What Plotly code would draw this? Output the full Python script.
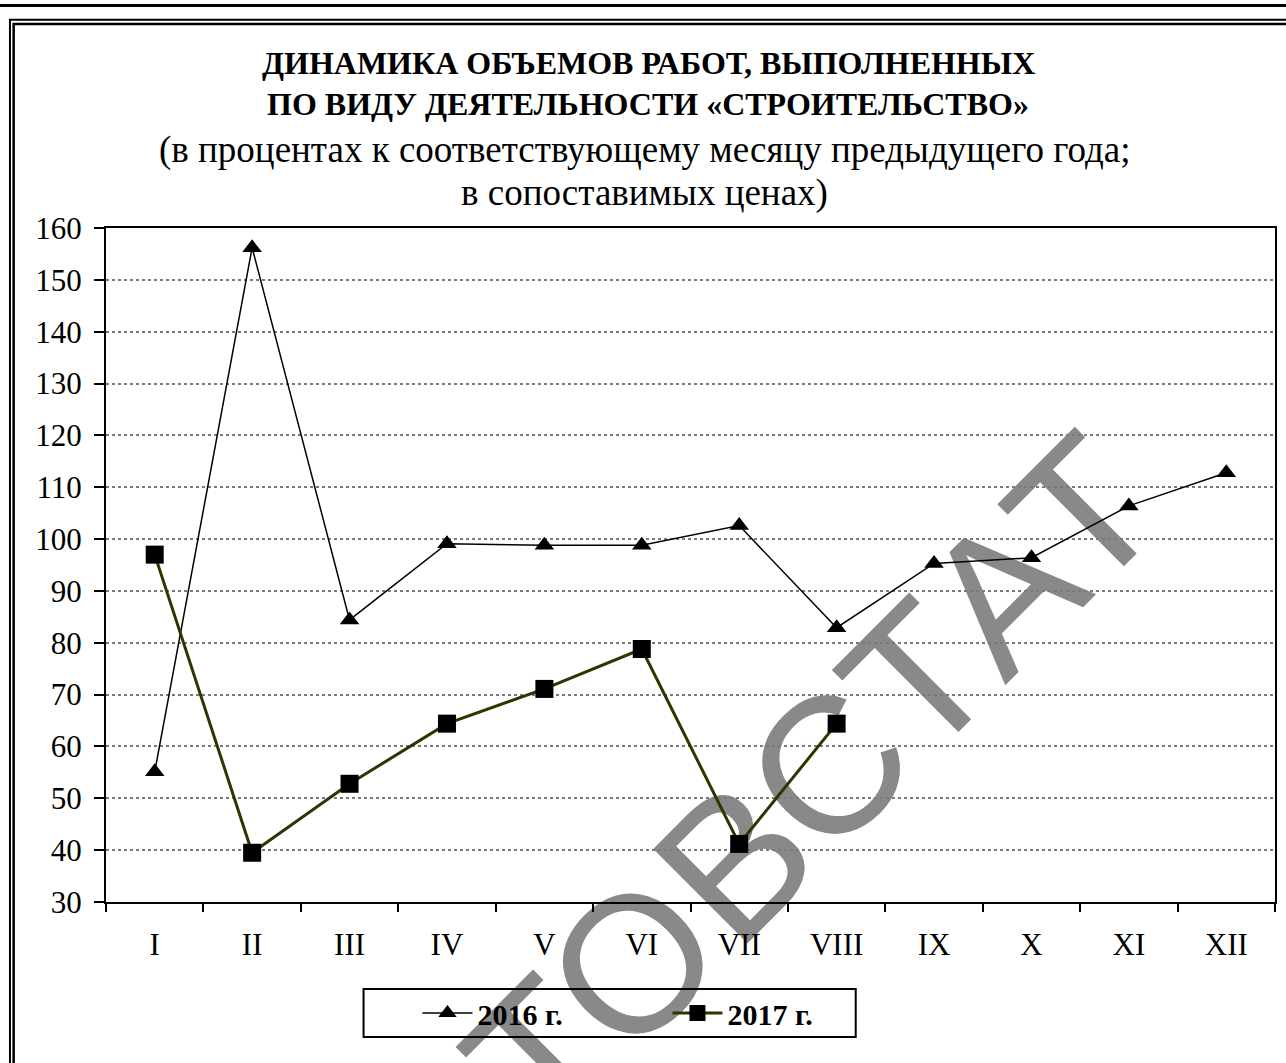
import base64
import plotly.graph_objects as go

# ---------------- data ----------------
months = ["I", "II", "III", "IV", "V", "VI", "VII", "VIII", "IX", "X", "XI", "XII"]
values_2016 = [55.1, 156.2, 84.4, 99.1, 98.8, 98.8, 102.6, 82.9, 95.3, 96.4, 106.4, 112.8]
values_2017 = [97.0, 39.5, 52.8, 64.4, 71.1, 78.8, 41.2, 64.4, None, None, None, None]
series_names = ["2016 г.", "2017 г."]
y_min, y_max, y_step = 30, 160, 10

title_lines = ["ДИНАМИКА ОБЪЕМОВ РАБОТ, ВЫПОЛНЕННЫХ",
               "ПО ВИДУ ДЕЯТЕЛЬНОСТИ «СТРОИТЕЛЬСТВО»"]
subtitle_lines = ["(в процентах к соответствующему месяцу предыдущего года;",
                  "в сопоставимых ценах)"]
watermark = "РОСТОВСТАТ"

# ---------------- geometry helpers ----------------
W, H = 1286, 1063
L, R, T, B = 106, 1277, 228, 902
PW, PH = R - L, B - T


def px(x):
    return (x - L) / PW


def py(y):
    return (B - y) / PH


SERIF = "Liberation Serif, Times New Roman, serif"

fig = go.Figure()
fig.add_trace(go.Scatter(
    x=months, y=values_2016, name=series_names[0], mode="lines+markers",
    line=dict(color="black", width=1.5),
    marker=dict(symbol="triangle-up", size=17, color="black"),
))
fig.add_trace(go.Scatter(
    x=months, y=values_2017, name=series_names[1], mode="lines+markers",
    line=dict(color="#333300", width=3),
    marker=dict(symbol="square", size=18, color="black"),
))

# title / subtitle annotations
annotations = []
for text, yc in zip(title_lines, [63, 104]):
    annotations.append(dict(text=text, x=px(649), y=py(yc), xref="paper", yref="paper",
                            xanchor="center", yanchor="middle", showarrow=False,
                            font=dict(family=SERIF, size=32, color="black", weight="bold")))
for text, yc in zip(subtitle_lines, [150, 193]):
    annotations.append(dict(text=text, x=px(645), y=py(yc), xref="paper", yref="paper",
                            xanchor="center", yanchor="middle", showarrow=False,
                            font=dict(family=SERIF, size=37, color="black")))

# decorative page frame + legend box
shapes = [
    dict(type="line", xref="paper", yref="paper", x0=px(-5), x1=px(W + 5), y0=py(5.5), y1=py(5.5),
         line=dict(color="black", width=3)),
    dict(type="rect", xref="paper", yref="paper", x0=px(9.8), x1=px(W + 40), y0=py(19.8), y1=py(H + 40),
         line=dict(color="black", width=2)),
    dict(type="rect", xref="paper", yref="paper", x0=px(13.5), x1=px(W + 40), y0=py(24), y1=py(H + 40),
         line=dict(color="black", width=2.5)),
    dict(type="rect", xref="paper", yref="paper", x0=px(364), x1=px(857), y0=py(989), y1=py(1037),
         line=dict(color="black", width=2)),
]

svg = (f'<svg xmlns="http://www.w3.org/2000/svg" width="{W}" height="{H}" viewBox="0 0 {W} {H}">'
       f'<text x="713" y="979" transform="rotate(-45 713 979)" text-anchor="middle" letter-spacing="4" '
       f'font-family="Liberation Sans, Arial, sans-serif" font-size="194" fill="#898989">{watermark}</text></svg>')
src = "data:image/svg+xml;base64," + base64.b64encode(svg.encode("utf-8")).decode()

fig.update_layout(
    width=W, height=H,
    margin=dict(l=L, r=W - R, t=T, b=H - B, pad=0),
    paper_bgcolor="white", plot_bgcolor="rgba(0,0,0,0)",
    showlegend=True,
    legend=dict(orientation="h", x=px(418), y=py(1013), xanchor="left", yanchor="middle",
                bgcolor="rgba(0,0,0,0)", borderwidth=0, entrywidth=185, itemwidth=50,
                font=dict(family=SERIF, size=30, color="black", weight="bold")),
    annotations=annotations,
    shapes=shapes,
    images=[dict(source=src, xref="paper", yref="paper", x=px(0), y=py(0),
                 sizex=W / PW, sizey=H / PH, xanchor="left", yanchor="top",
                 sizing="stretch", layer="below")],
    xaxis=dict(type="category", categoryorder="array", categoryarray=months,
               range=[-0.5, len(months) - 0.5], showgrid=False, zeroline=False,
               showline=True, linecolor="black", linewidth=2, mirror=True,
               ticks="outside", tickson="boundaries", ticklen=8, tickwidth=2, tickcolor="black",
               tickfont=dict(family=SERIF, size=31, color="black"), ticklabelstandoff=14),
    yaxis=dict(range=[y_min, y_max], tick0=y_min, dtick=y_step, showgrid=True,
               gridcolor="#7a7a7a", gridwidth=1.5, griddash="dot", zeroline=False,
               showline=True, linecolor="black", linewidth=2, mirror=True,
               ticks="outside", ticklen=10, tickwidth=2, tickcolor="black",
               tickfont=dict(family=SERIF, size=31, color="black"), ticklabelstandoff=6),
)

fig.write_html("out.html", config={"displayModeBar": False},
               post_script="document.body.style.margin='0';")
